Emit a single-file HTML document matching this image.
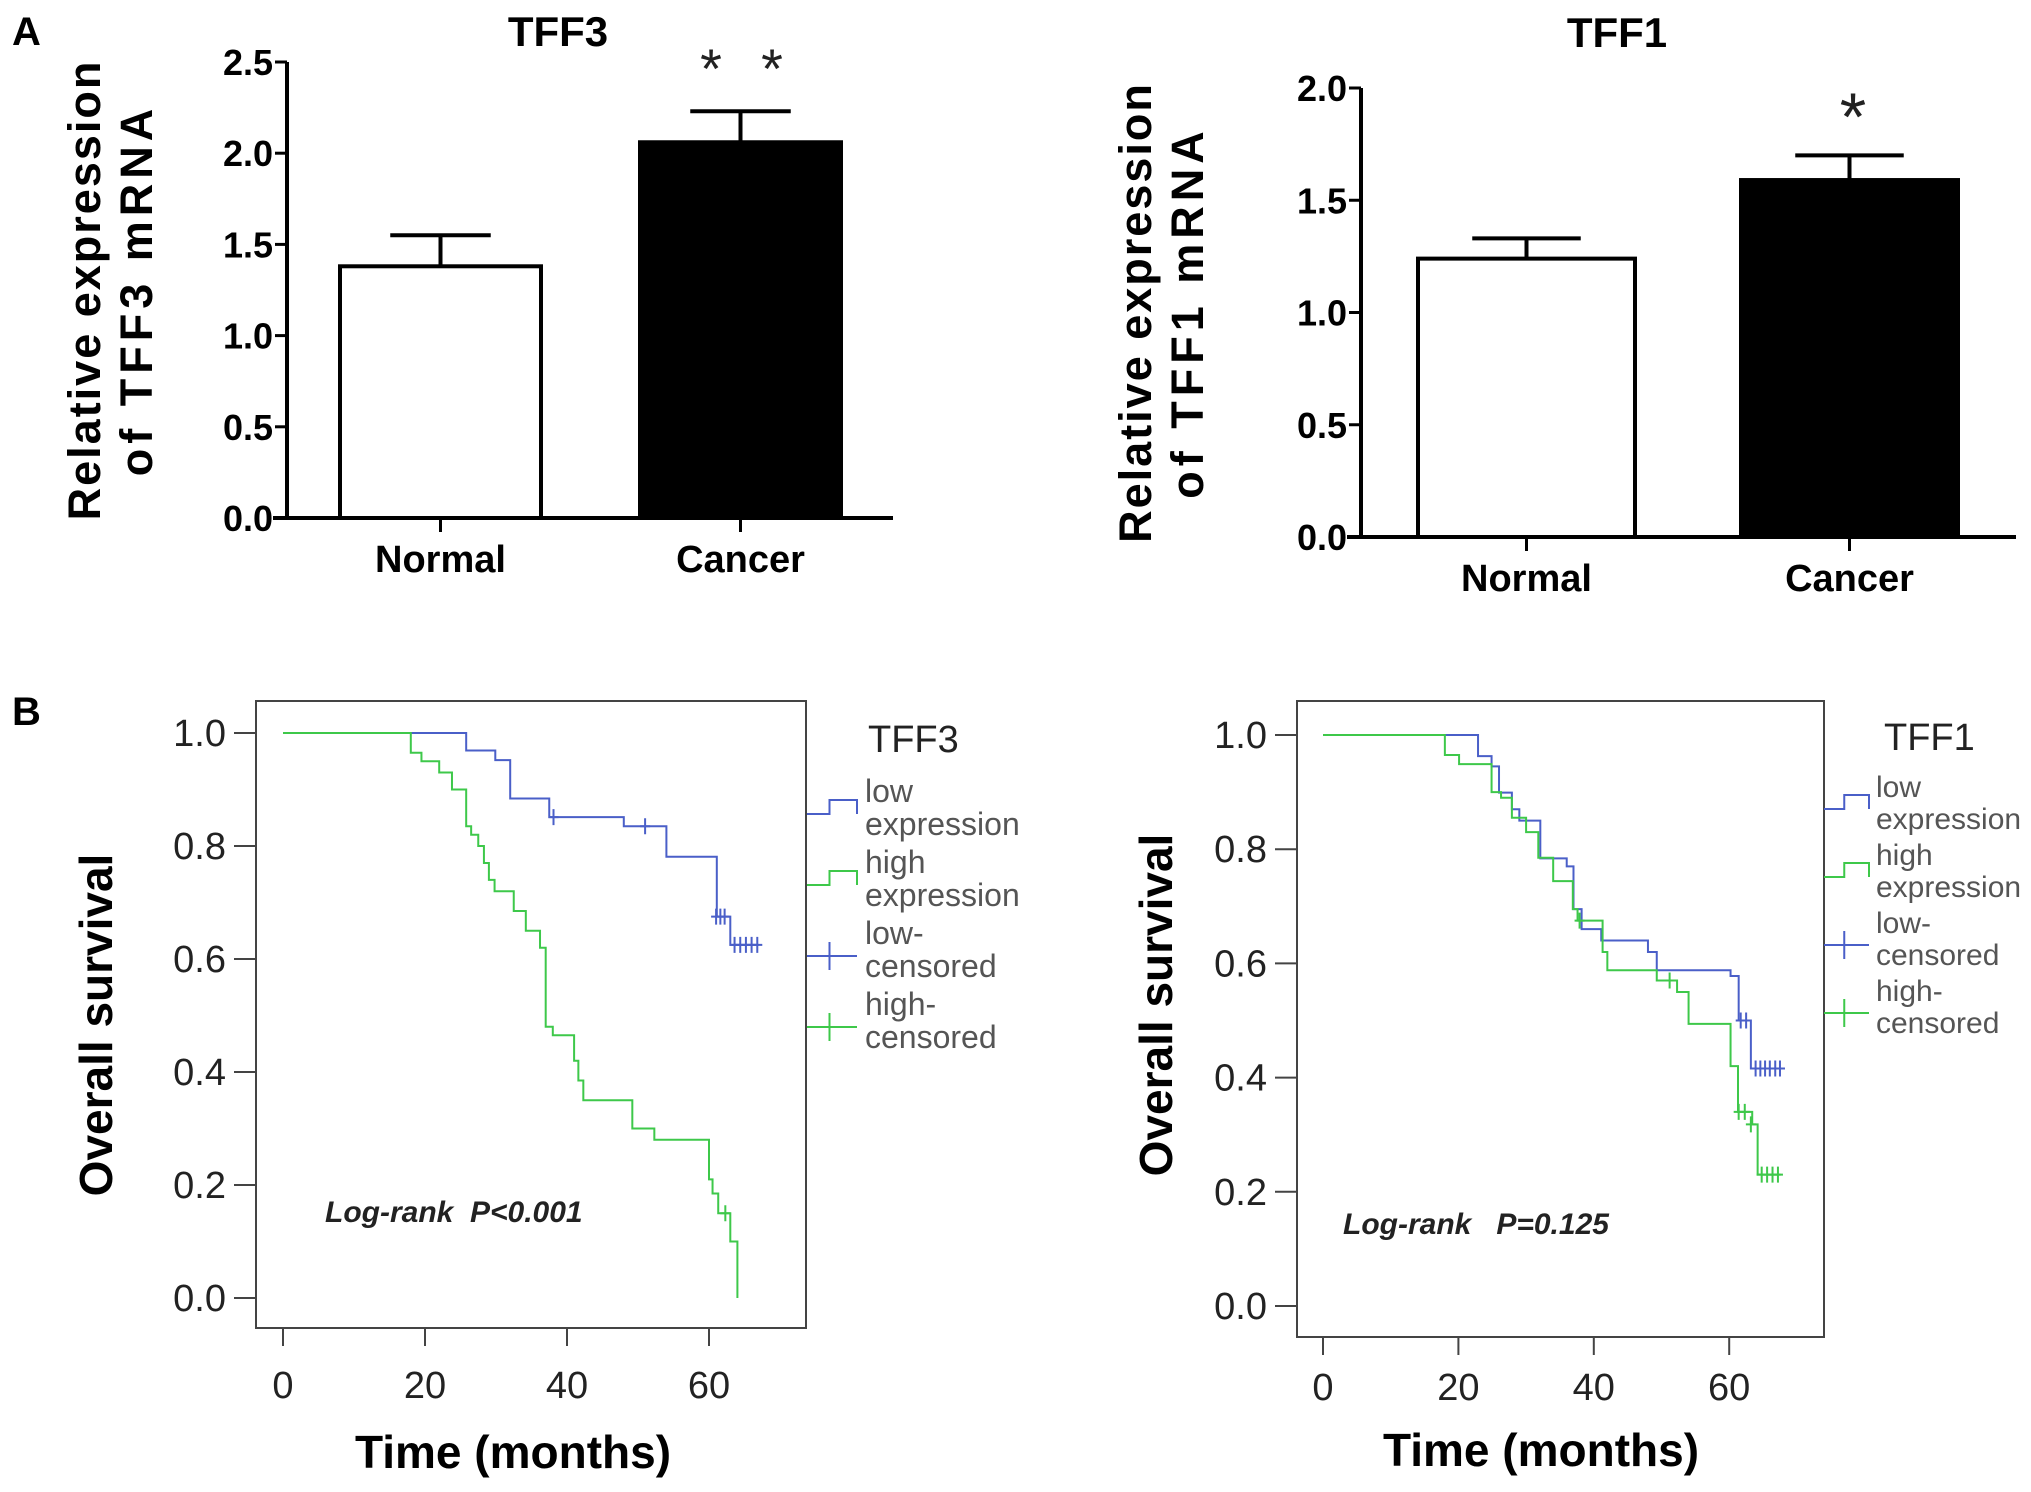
<!DOCTYPE html>
<html><head><meta charset="utf-8"><style>
html,body{margin:0;padding:0;background:#fff;}
svg{display:block;}
.bold{font-family:"Liberation Sans Narrow","Liberation Sans",sans-serif;font-weight:bold;}
.sans{font-family:"Liberation Sans",sans-serif;}
.pre{white-space:pre;}
</style></head><body>
<svg id="fig" width="2031" height="1492" viewBox="0 0 2031 1492" xmlns="http://www.w3.org/2000/svg">
<text x="12" y="45" class="sans" font-weight="bold" font-size="40">A</text>
<text x="12" y="725" class="sans" font-weight="bold" font-size="40">B</text>
<g id="a1"></g>
<g id="a2"></g>
<g id="b1"></g>
<g id="b2"></g>
</svg>
<script>
// ---- bar chart data ----
const barCategories = ["Normal", "Cancer"];
const tff3Means = [1.38, 2.06];
const tff3Errors = [0.17, 0.17];
const tff3Ticks = ["0.0","0.5","1.0","1.5","2.0","2.5"];
const tff1Means = [1.24, 1.59];
const tff1Errors = [0.09, 0.11];
const tff1Ticks = ["0.0","0.5","1.0","1.5","2.0"];

// ---- survival data: [month, survival] step points ----
const tff3LowSteps = [[0,1.0],[25.8,0.969],[29.9,0.952],[32,0.884],[37.5,0.851],[48,0.835],[54,0.781],[61.1,0.675],[63,0.625]];
const tff3LowEnd = 67;
const tff3LowCensor = [[38.1,0.851],[51,0.835],[61,0.675],[61.6,0.675],[62.2,0.675],[63.6,0.625],[64.4,0.625],[65.2,0.625],[66,0.625],[66.8,0.625]];
const tff3HighSteps = [[0,1.0],[18,0.965],[19.5,0.95],[22,0.93],[23.8,0.90],[25.8,0.835],[26.5,0.82],[27.5,0.80],[28.3,0.77],[29,0.74],[29.8,0.72],[32.5,0.685],[34.2,0.65],[36.2,0.62],[37,0.48],[38,0.465],[41,0.42],[41.6,0.385],[42.3,0.35],[49.2,0.30],[52.3,0.28],[60,0.21],[60.5,0.185],[61.3,0.15],[63,0.10],[64,0.0]];
const tff3HighEnd = 64;
const tff3HighCensor = [[62.3,0.15]];

const tff1LowSteps = [[0,1.0],[22.9,0.963],[24.9,0.945],[26,0.899],[27.9,0.87],[29,0.85],[32.1,0.784],[36,0.77],[37,0.695],[38.2,0.66],[41.1,0.64],[48,0.62],[49.3,0.588],[60.2,0.578],[61.4,0.50],[63.2,0.416]];
const tff1LowEnd = 67.6;
const tff1LowCensor = [[61.7,0.50],[62.5,0.50],[63.9,0.416],[64.6,0.416],[65.3,0.416],[66,0.416],[66.8,0.416],[67.5,0.416]];
const tff1HighSteps = [[0,1.0],[18,0.965],[20.1,0.949],[24.9,0.90],[26.3,0.89],[27.9,0.855],[30,0.83],[31.8,0.785],[34,0.744],[36.9,0.695],[37.6,0.675],[41.3,0.62],[42,0.588],[49.3,0.57],[52.3,0.55],[54,0.494],[60.2,0.42],[61.3,0.34],[63.4,0.318],[64.2,0.23]];
const tff1HighEnd = 67.6;
const tff1HighCensor = [[37.9,0.675],[51.2,0.57],[61.4,0.34],[62.3,0.34],[63.2,0.318],[64.8,0.23],[65.6,0.23],[66.4,0.23],[67.2,0.23]];
const survYTicks = [0,0.2,0.4,0.6,0.8,1.0];
const survXTicks = [0,20,40,60];

const NS="http://www.w3.org/2000/svg";
function mk(parent,tag,attrs,text){const e=document.createElementNS(NS,tag);for(const k in attrs)e.setAttribute(k,attrs[k]);if(text!==undefined)e.textContent=text;parent.appendChild(e);return e;}

function barChart(g,cfg){
  const y=v=>cfg.y0-(v/cfg.ymax)*(cfg.y0-cfg.ytop);
  let t=mk(g,'text',{x:cfg.titleX,y:cfg.titleY,'text-anchor':'middle','font-size':42,class:'bold'},cfg.title);
  
  
  let yl=mk(g,'text',{transform:`translate(${cfg.ylabX},${(cfg.y0+cfg.ytop)/2}) rotate(-90)`,'text-anchor':'middle','font-size':45,class:'sans','font-weight':'bold'});
  
  
  mk(yl,'tspan',{x:0,dy:-24,'letter-spacing':'2'},'Relative expression');
  mk(yl,'tspan',{x:0,dy:52,'letter-spacing':'5'},cfg.ylab2);
  let ya=mk(g,'line',{x1:cfg.ax,y1:cfg.ytop,x2:cfg.ax,y2:cfg.y0+2,stroke:'#000','stroke-width':4});
  
  
  let xa=mk(g,'line',{x1:cfg.ax-14,y1:cfg.y0,x2:cfg.xend,y2:cfg.y0,stroke:'#000','stroke-width':4});
  
  
  cfg.ticks.forEach(tk=>{
    const v=parseFloat(tk),yy=y(v);
    mk(g,'line',{x1:cfg.ax-12,y1:yy,x2:cfg.ax,y2:yy,stroke:'#000','stroke-width':3});
    let tl=mk(g,'text',{x:cfg.ax-14,y:yy+13,'text-anchor':'end','font-size':36,class:'bold'},tk);
    
    
  });
  barCategories.forEach((c,i)=>{
    const x0=cfg.barX[i],w=cfg.barW,cx=x0+w/2,m=cfg.means[i],e=cfg.errs[i];
    let b=mk(g,'rect',{x:x0,y:y(m),width:w,height:cfg.y0-y(m),fill:i?'#000':'#fff',stroke:'#000','stroke-width':4});
    
    
    let el=mk(g,'path',{d:`M${cx} ${y(m)} V${y(m+e)} M${cx-w*0.25} ${y(m+e)} H${cx+w*0.25}`,stroke:'#000','stroke-width':4,fill:'none'});
    
    
    mk(g,'line',{x1:cx,y1:cfg.y0,x2:cx,y2:cfg.y0+14,stroke:'#000','stroke-width':3});
    let cl=mk(g,'text',{x:cx,y:cfg.y0+54,'text-anchor':'middle','font-size':38,class:'bold'},c);
    
    
  });
  cfg.starXs.forEach(sx=>{
    let st=mk(g,'text',{x:sx,y:cfg.starY,'text-anchor':'middle','font-size':cfg.starFs,class:'sans',fill:'#222'},'*');
    
    
  });
}

barChart(document.getElementById('a1'),{title:'TFF3',titleX:558,titleY:46,ylabX:124,ylab2:'of TFF3 mRNA',ax:287,ytop:62,y0:518,ymax:2.5,xend:893,ticks:tff3Ticks,barX:[340,640],barW:201,means:tff3Means,errs:tff3Errors,starXs:[711,772],starY:88,starFs:56});
barChart(document.getElementById('a2'),{title:'TFF1',titleX:1617,titleY:47,ylabX:1175,ylab2:'of TFF1 mRNA',ax:1361,ytop:88,y0:537,ymax:2.0,xend:2016,ticks:tff1Ticks,barX:[1418,1741],barW:217,means:tff1Means,errs:tff1Errors,starXs:[1853],starY:140,starFs:68});

function survChart(g,cfg){
  const X=m=>cfg.x0+m*cfg.pxPerMonth, Y=v=>cfg.y0-v*(cfg.y0-cfg.y1);
  let fr=mk(g,'rect',{x:cfg.fx,y:cfg.fy,width:cfg.fw,height:cfg.fh,fill:'none',stroke:'#444','stroke-width':2});
  
  
  survYTicks.forEach(v=>{
    mk(g,'line',{x1:cfg.fx-22,y1:Y(v),x2:cfg.fx,y2:Y(v),stroke:'#444','stroke-width':2});
    let t=mk(g,'text',{x:cfg.fx-30,y:Y(v)+13,'text-anchor':'end','font-size':38,class:'sans',fill:'#222'},v.toFixed(1));
    
    
  });
  survXTicks.forEach(m=>{
    mk(g,'line',{x1:X(m),y1:cfg.fy+cfg.fh,x2:X(m),y2:cfg.fy+cfg.fh+18,stroke:'#444','stroke-width':2});
    let t=mk(g,'text',{x:X(m),y:cfg.xtlY,'text-anchor':'middle','font-size':38,class:'sans',fill:'#222'},String(m));
    
    
  });
  let xt=mk(g,'text',{x:cfg.xtX,y:cfg.xtY,'text-anchor':'middle','font-size':46,class:'sans','font-weight':'bold'},'Time (months)');
  
  
  let yt=mk(g,'text',{transform:`translate(${cfg.ytX},${cfg.ytY}) rotate(-90)`,'text-anchor':'middle','font-size':46,class:'sans','font-weight':'bold'},'Overall survival');
  
  
  function curve(steps,end,cens,color,name){
    let d=`M${X(steps[0][0])} ${Y(steps[0][1])}`;
    for(let i=1;i<steps.length;i++){d+=` H${X(steps[i][0])} V${Y(steps[i][1])}`;}
    d+=` H${X(Math.max(end,steps[steps.length-1][0]))}`;
    let p=mk(g,'path',{d:d,stroke:color,'stroke-width':2,fill:'none'});
    
    
    cens.forEach(c=>{
      let cm=mk(g,'path',{d:`M${X(c[0])} ${Y(c[1])-8} V${Y(c[1])+8} M${X(c[0])-5} ${Y(c[1])} H${X(c[0])+5}`,stroke:color,'stroke-width':2});
      
      
    });
  }
  curve(cfg.low,cfg.lowEnd,cfg.lowC,'#4a5fc8','low-expression');
  curve(cfg.high,cfg.highEnd,cfg.highC,'#3ec84a','high-expression');
  let lr=mk(g,'text',{x:cfg.lrX,y:cfg.lrY,'font-size':30,class:'sans pre','font-weight':'bold','font-style':'italic',fill:'#222'},cfg.lr);
  
  
  const L=cfg.leg;
  let lt=mk(g,'text',{x:L.titleX,y:L.titleY,'font-size':38,class:'sans',fill:'#222'},cfg.gene);
  
  
  const entries=[['low','expression','#4a5fc8','step'],['high','expression','#3ec84a','step'],['low-','censored','#4a5fc8','cross'],['high-','censored','#3ec84a','cross']];
  entries.forEach((e,i)=>{
    const ty=L.y0+i*L.dy, sy=ty+L.symOff;
    const grp=mk(g,'g',{});
    
    
    if(e[3]==='step'){
      mk(grp,'path',{d:`M${L.sx0} ${sy} H${L.sx0+L.sw*0.45} V${sy-14} H${L.sx0+L.sw} V${sy}`,stroke:e[2],'stroke-width':2,fill:'none'});
    }else{
      mk(grp,'path',{d:`M${L.sx0} ${sy} H${L.sx0+L.sw} M${L.sx0+L.sw*0.45} ${sy-14} V${sy+14}`,stroke:e[2],'stroke-width':2,fill:'none'});
    }
    mk(grp,'text',{x:L.tx,y:ty,'font-size':L.fs,class:'sans',fill:'#555'},e[0]);
    mk(grp,'text',{x:L.tx,y:ty+L.lh,'font-size':L.fs,class:'sans',fill:'#555'},e[1]);
  });
}

survChart(document.getElementById('b1'),{fx:256,fy:701,fw:550,fh:627,x0:283,pxPerMonth:7.1,y0:1298,y1:733,
  low:tff3LowSteps,lowEnd:tff3LowEnd,lowC:tff3LowCensor,high:tff3HighSteps,highEnd:tff3HighEnd,highC:tff3HighCensor,
  xtlY:1398,xtX:513,xtY:1468,ytX:112,ytY:1025,lr:'Log-rank  P<0.001',lrX:325,lrY:1222,gene:'TFF3',
  leg:{titleX:868,titleY:752,y0:802,dy:71,lh:33,symOff:12,sx0:807,sw:50,tx:865,fs:32}});
survChart(document.getElementById('b2'),{fx:1297,fy:701,fw:527,fh:636,x0:1323,pxPerMonth:6.77,y0:1306,y1:735,
  low:tff1LowSteps,lowEnd:tff1LowEnd,lowC:tff1LowCensor,high:tff1HighSteps,highEnd:tff1HighEnd,highC:tff1HighCensor,
  xtlY:1400,xtX:1541,xtY:1466,ytX:1172,ytY:1005,lr:'Log-rank   P=0.125',lrX:1343,lrY:1234,gene:'TFF1',
  leg:{titleX:1884,titleY:750,y0:797,dy:68,lh:32,symOff:12,sx0:1824,sw:45,tx:1876,fs:30}});
</script>
</body></html>
